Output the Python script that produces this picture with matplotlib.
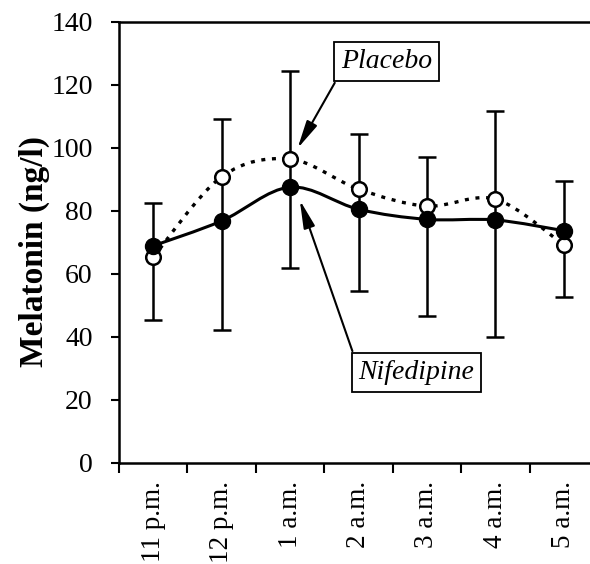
import matplotlib
matplotlib.use("Agg")
import matplotlib.pyplot as plt
import numpy as np
from matplotlib.path import Path
from matplotlib.patches import PathPatch

# ---- data ----
times = ["11 p.m.", "12 p.m.", "1 a.m.", "2 a.m.", "3 a.m.", "4 a.m.", "5 a.m."]
nifedipine = [68.9, 76.8, 87.5, 80.5, 77.3, 77.1, 73.7]
placebo = [65.3, 90.8, 96.4, 86.9, 81.5, 83.7, 69.2]
err_high = [82.6, 109.2, 124.5, 104.4, 97.0, 111.7, 89.6]
err_low = [45.5, 42.2, 61.8, 54.6, 46.6, 40.1, 52.6]
yticks = [0, 20, 40, 60, 80, 100, 120, 140]

plt.rcParams['font.family'] = ['Liberation Serif', 'DejaVu Serif']

W, H = 590, 564
fig = plt.figure(figsize=(W / 100, H / 100), dpi=100)
ax_left, ax_right = 119, 598
ax_top, ax_bottom = 21.7, 463
ax = fig.add_axes([ax_left / W, 1 - ax_bottom / H, (ax_right - ax_left) / W, (ax_bottom - ax_top) / H])

x = np.arange(len(times))
ax.set_xlim(-0.5, len(times) - 0.5)
ax.set_ylim(0, 140)


def smooth_path(xs, ys):
    xs = np.asarray(xs, float)
    ys = np.asarray(ys, float)
    pts = np.column_stack([xs, ys])
    verts = [pts[0]]
    codes = [Path.MOVETO]
    n = len(pts)
    for i in range(n - 1):
        p0 = pts[i - 1] if i > 0 else pts[i]
        p1 = pts[i]
        p2 = pts[i + 1]
        p3 = pts[i + 2] if i + 2 < n else pts[i + 1]
        c1 = p1 + (p2 - p0) / 6.0
        c2 = p2 - (p3 - p1) / 6.0
        verts += [c1, c2, p2]
        codes += [Path.CURVE4] * 3
    return Path(verts, codes)


# error bars
ax.vlines(x, err_low, err_high, color='black', lw=1.8, zorder=2)
ax.plot(x, err_high, linestyle='none', marker='_', markersize=13, markeredgewidth=1.8, color='black', zorder=2)
ax.plot(x, err_low, linestyle='none', marker='_', markersize=13, markeredgewidth=1.8, color='black', zorder=2)

# placebo smoothed dotted
pp = PathPatch(smooth_path(x, placebo), fill=False, edgecolor='black', lw=2.4,
               linestyle=(0, (1.2, 2.0)), zorder=3)
ax.add_patch(pp)
ax.plot(x, placebo, linestyle='none', marker='o', markersize=10.5, markerfacecolor='white',
        markeredgecolor='black', markeredgewidth=1.8, zorder=4)

# nifedipine smoothed solid
pn = PathPatch(smooth_path(x, nifedipine), fill=False, edgecolor='black', lw=2.2, zorder=5)
ax.add_patch(pn)
ax.plot(x, nifedipine, linestyle='none', marker='o', markersize=11.5, markerfacecolor='black',
        markeredgecolor='black', zorder=6)

# axes styling
for s in ['left', 'bottom', 'top']:
    ax.spines[s].set_linewidth(1.8)
ax.spines['right'].set_visible(False)

ax.set_yticks(yticks)
ax.set_yticklabels([str(v) for v in yticks], fontsize=20)
ax.set_xticks(np.arange(len(times) + 1) - 0.5, minor=False)
ax.set_xticklabels([])
ax.set_xticks(x, minor=True)
ax.set_xticklabels(times, minor=True, rotation=90, fontsize=19.5)
ax.tick_params(axis='x', which='minor', length=0, pad=13)
ax.tick_params(axis='x', which='major', length=7, width=1.5, direction='out')
ax.tick_params(axis='y', length=6, width=1.5, direction='out', pad=13)

ax.set_ylabel("Melatonin (ng/l)", fontsize=24, fontweight='bold')
ax.yaxis.set_label_coords(-0.145, 0.48)

# annotations
box = dict(boxstyle='square,pad=0.25', facecolor='white', edgecolor='black', lw=1.3)
ax.text(3.41, 127.4, "Placebo", fontsize=20, style='italic', ha='center', va='center', bbox=box, zorder=7)
ax.text(3.848, 28.8, "Nifedipine", fontsize=20, style='italic', ha='center', va='center', bbox=box, zorder=7)

arrow = dict(arrowstyle='-|>,head_length=1.7,head_width=0.35', color='black', lw=1.5,
             mutation_scale=10, shrinkA=0, shrinkB=0)
ax.annotate("", xy=(2.109, 99.8), xytext=(2.653, 120.6), arrowprops=arrow, zorder=8)
ax.annotate("", xy=(2.142, 83.4), xytext=(2.911, 35.5), arrowprops=arrow, zorder=8)

fig.savefig("out.png", dpi=100)
